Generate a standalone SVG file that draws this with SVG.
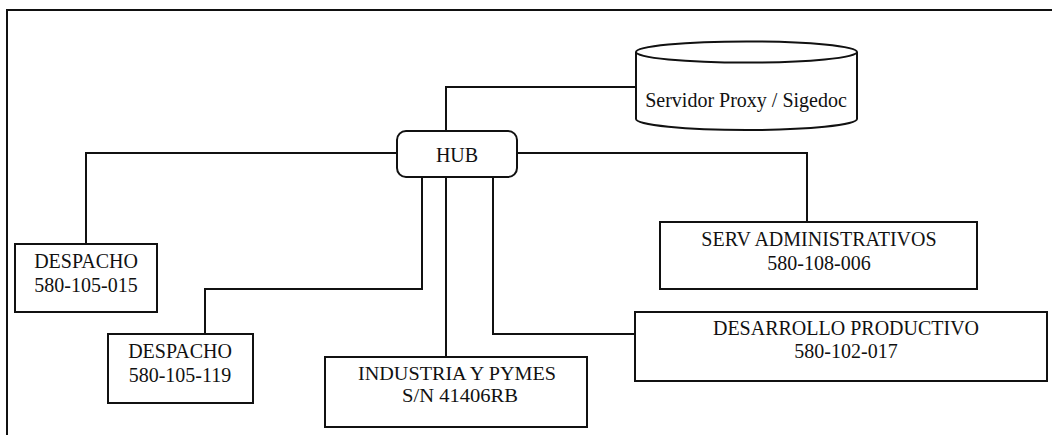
<svg xmlns="http://www.w3.org/2000/svg" width="1052" height="435" viewBox="0 0 1052 435">
<style>
.box{fill:#fff;stroke:#111;stroke-width:2}
.conn{fill:none;stroke:#111;stroke-width:2}
.frame{fill:none;stroke:#111;stroke-width:2}
text{font-family:"Liberation Serif","Times New Roman",serif;font-size:20px;fill:#111;text-anchor:middle}
.tight{font-size:19px}
</style>
<rect width="1052" height="435" fill="#fff"/>
<path class="frame" d="M7,435 V10 H1052"/>
<g id="connectors">
<path class="conn" d="M446,131 V87 H636"/>
<path class="conn" d="M397,153 H86 V244"/>
<path class="conn" d="M517,153 H807 V222"/>
<path class="conn" d="M422,177 V289 H205 V334"/>
<path class="conn" d="M446,177 V357"/>
<path class="conn" d="M493,177 V334 H635"/>
</g>
<g id="servidor">
<path class="box" d="M636,52 V119 A110.5,11 0 0 0 857,119 V52"/>
<ellipse class="box" cx="746.5" cy="52" rx="110.5" ry="10.5"/>
<text x="746" y="107">Servidor Proxy / Sigedoc</text>
</g>
<g id="hub">
<rect class="box" x="397" y="131" width="120" height="46" rx="9"/>
<text x="457" y="162">HUB</text>
</g>
<g id="despacho1">
<rect class="box" x="15" y="244" width="142" height="68"/>
<text x="86" y="268">DESPACHO</text>
<text x="86" y="292">580-105-015</text>
</g>
<g id="despacho2">
<rect class="box" x="108" y="334" width="145" height="69"/>
<text x="180" y="358">DESPACHO</text>
<text x="180" y="382">580-105-119</text>
</g>
<g id="industria">
<rect class="box" x="325" y="357" width="262" height="70"/>
<text class="tight" x="457" y="380" textLength="198" lengthAdjust="spacingAndGlyphs">INDUSTRIA Y PYMES</text>
<text class="tight" x="460" y="401.5" textLength="116" lengthAdjust="spacingAndGlyphs">S/N 41406RB</text>
</g>
<g id="serv">
<rect class="box" x="660" y="222" width="317" height="67"/>
<text x="819" y="246">SERV ADMINISTRATIVOS</text>
<text x="819" y="270">580-108-006</text>
</g>
<g id="desarrollo">
<rect class="box" x="635" y="312" width="412" height="69"/>
<text x="846" y="335">DESARROLLO PRODUCTIVO</text>
<text x="846" y="358">580-102-017</text>
</g>
</svg>
